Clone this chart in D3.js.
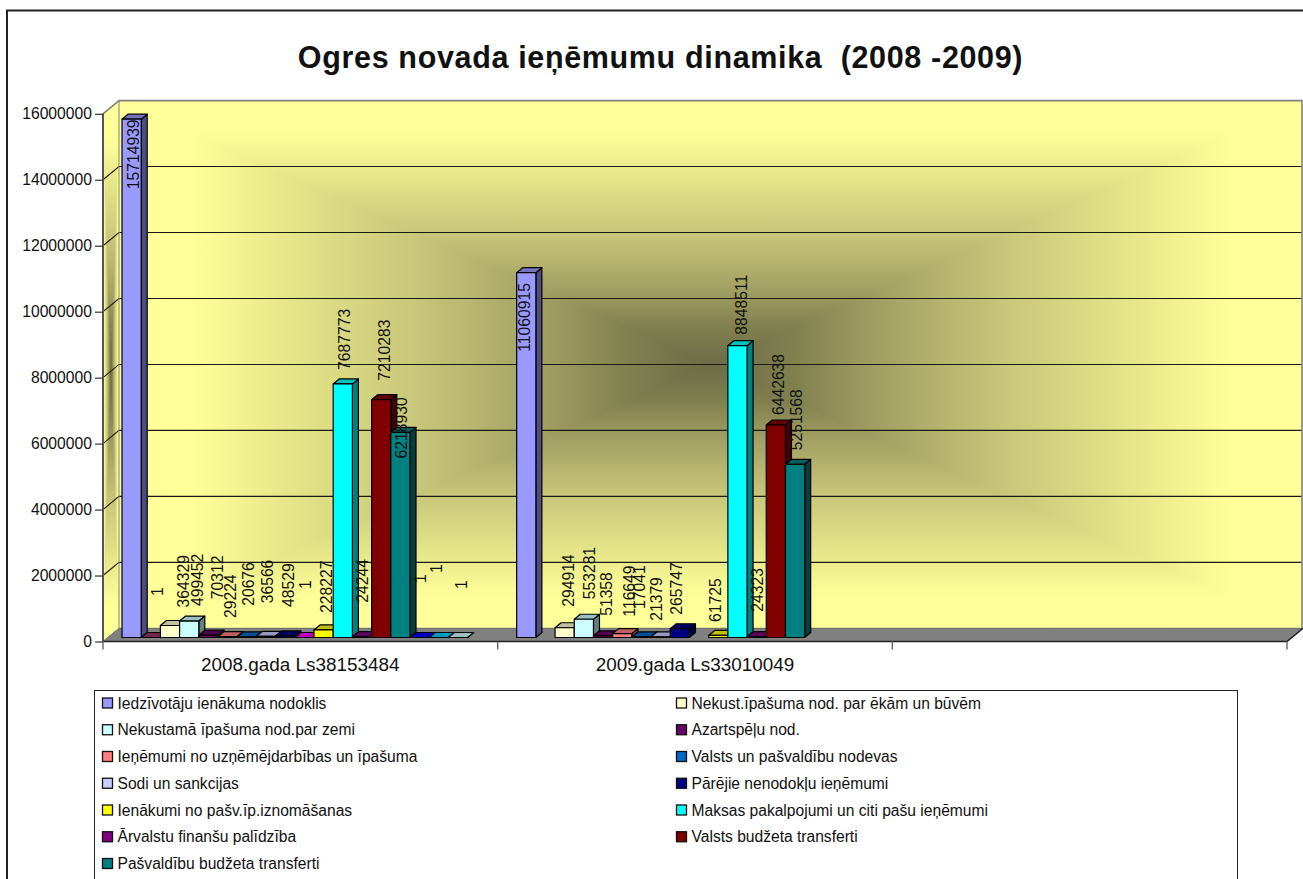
<!DOCTYPE html>
<html><head><meta charset="utf-8">
<script src="https://cdn.jsdelivr.net/npm/d3@7/dist/d3.min.js"></script>
<style>
html,body{margin:0;padding:0;background:#fff;overflow:hidden}
svg{display:block}
text{font-family:"Liberation Sans",Arial,sans-serif;fill:#111;white-space:pre}
</style></head><body><div id="c"></div>
<script>
const titleText = "Ogres novada ieņēmumu dinamika  (2008 -2009)";
const categories = ["2008.gada Ls38153484", "2009.gada Ls33010049", ""];
const seriesNames = [
  "Iedzīvotāju ienākuma nodoklis", null, "Nekust.īpašuma nod. par ēkām un būvēm",
  "Nekustamā īpašuma nod.par zemi", "Azartspēļu nod.", "Ieņēmumi no uzņēmējdarbības un īpašuma",
  "Valsts un pašvaldību nodevas", "Sodi un sankcijas", "Pārējie nenodokļu ieņēmumi", null,
  "Ienākumi no pašv.īp.iznomāšanas", "Maksas pakalpojumi un citi pašu ieņēmumi",
  "Ārvalstu finanšu palīdzība", "Valsts budžeta transferti", "Pašvaldību budžeta transferti",
  null, null, null];
const seriesColors = ["#9999ff","#993366","#ffffcc","#ccffff","#660066","#ff8080","#0066cc","#ccccff",
  "#000080","#ff00ff","#ffff00","#00ffff","#800080","#800000","#008080","#0000ff","#00ccff","#ccffff"];
const values2008 = [15714939,1,364329,499452,70312,29224,20676,36566,48529,1,228227,7687773,24244,7210283,6218930,1,1,1];
const values2009 = [11060915,null,294914,553281,51358,116649,17041,21379,265747,null,61725,8848511,24323,6442638,5251568,null,null,null];
const yTicks = [0,2000000,4000000,6000000,8000000,10000000,12000000,14000000,16000000];
// hand-placed data label offsets in the source chart (dx, dy from the default spot above a bar)
const labelNudge2008 = [[-1.6,76],[4,-35.5],[10,-12],[5,-9],[6,-30],[0,-12.5],[-1,-25],[-2,-27],[0,-23],[-2,-42.5],[0,-11],[-1,-8],[-3,-28],[0,-13],[-2,32],[-2,-48.5],[-5,-58.5],[0,-42.5]];
const labelNudge2009 = [[-5,85],null,[1,-15],[3,-14],[0,-14],[4,-11],[-5,-22],[-7.5,-10],[-6,-8],null,[-6,-7.5],[1,-5],[-2,-19],[0,-4],[-2,-8],null,null,null];

const W=1303,H=879;
const svg=d3.select("#c").append("svg").attr("width",W).attr("height",H);
const defs=svg.append("defs");

// geometry
const front={l:103,r:1287,b:641.5,t:113.8};
const depth={x:16,y:13.2};
const wall={l:front.l+depth.x,r:1302,b:front.b-depth.y,t:front.t-depth.y};
const bar3d={x:6,y:5,base:637.5};

const yAxisScale=d3.scaleLinear().domain([0,16000000]).range([front.b,front.t]);
const yWall=d3.scaleLinear().domain([0,16000000]).range([wall.b,wall.t]);
const yBar=d3.scaleLinear().domain([0,16000000]).range([bar3d.base,bar3d.base-(front.b-front.t)]);
const xCat=d3.scaleBand().domain(categories.map((d,i)=>i)).range([front.l,front.r]);
const xSeries=d3.scaleBand().domain(d3.range(18)).range([19,19+19.2*18]);

// outer frame
svg.append("path").attr("d",`M7,${H+5}V10.5H${W+5}`).attr("fill","none").attr("stroke","#222").attr("stroke-width",2);

// gradient ramp
const ramp=[[0,"#ffff99"],[.06,"#ffff99"],[.17,"#dede85"],[.25,"#c9c77a"],[.35,"#a5a365"],[.43,"#80804f"],[.5,"#6c6b47"],
            [.57,"#80804f"],[.65,"#a5a365"],[.75,"#c9c77a"],[.83,"#dede85"],[.94,"#ffff99"],[1,"#ffff99"]];
function grad(id,x1,y1,x2,y2){
  const g=defs.append("linearGradient").attr("id",id).attr("gradientUnits","userSpaceOnUse")
    .attr("x1",x1).attr("y1",y1).attr("x2",x2).attr("y2",y2);
  ramp.forEach(s=>g.append("stop").attr("offset",s[0]).attr("stop-color",s[1]));
}
grad("wallH",wall.l,0,wall.r,0);
grad("wallV",0,wall.t,0,wall.b);
grad("sideH",front.l,0,wall.l,0);
grad("sideV",0,(front.t+wall.t)/2,0,(front.b+wall.b)/2);

// back wall
const cx=(wall.l+wall.r)/2,cy=(wall.t+wall.b)/2;
svg.append("rect").attr("x",wall.l).attr("y",wall.t).attr("width",wall.r-wall.l).attr("height",wall.b-wall.t).attr("fill","url(#wallH)");
svg.append("path").attr("d",`M${wall.l},${wall.t}H${wall.r}L${cx},${cy}ZM${wall.l},${wall.b}H${wall.r}L${cx},${cy}Z`).attr("fill","url(#wallV)");

// side wall
const sx=(front.l+wall.l)/2,sy=(front.t+front.b)/2-depth.y/2;
svg.append("path").attr("d",`M${front.l},${front.t}L${wall.l},${wall.t}V${wall.b}L${front.l},${front.b}Z`).attr("fill","url(#sideH)");
svg.append("path").attr("d",`M${front.l},${front.t}L${wall.l},${wall.t}L${sx},${sy}ZM${front.l},${front.b}L${wall.l},${wall.b}L${sx},${sy}Z`).attr("fill","url(#sideV)");

// floor
svg.append("path").attr("d",`M${front.l},${front.b}L${wall.l},${wall.b}H${wall.r+1}L${front.r},${front.b}Z`)
  .attr("fill","#808080").attr("stroke","#666").attr("stroke-width",1);

// gridlines
const gridT=yTicks.slice(1,-1);
svg.append("g").selectAll("path").data(gridT).join("path")
  .attr("d",d=>`M${front.l},${yAxisScale(d)}L${wall.l},${yWall(d)}H${wall.r}`)
  .attr("fill","none").attr("stroke","#1a1a10").attr("stroke-width",1.1);

// wall outline
svg.append("path").attr("d",`M${front.l},${front.b}V${front.t}L${wall.l},${wall.t}H${wall.r}V${wall.b}`)
  .attr("fill","none").attr("stroke","#808080").attr("stroke-width",1.6);
svg.append("path").attr("d",`M${wall.l},${wall.t}V${wall.b}L${front.l},${front.b}`)
  .attr("fill","none").attr("stroke","#808080").attr("stroke-width",1);
svg.append("path").attr("d",`M${front.l},${front.b}V${front.t}`).attr("stroke","#555").attr("stroke-width",2);
svg.append("path").attr("d",`M${front.l},${front.b}H${front.r}L${wall.r+1},${wall.b}`).attr("fill","none").attr("stroke","#222").attr("stroke-width",1.4);

// y axis
const yAxis=d3.axisLeft(yAxisScale).tickValues(yTicks).tickFormat(d3.format("d")).tickSize(8).tickPadding(3);
const ya=svg.append("g").attr("transform",`translate(${front.l},0)`).call(yAxis);
ya.select(".domain").remove();
ya.selectAll("line").attr("stroke","#333").attr("stroke-width",1.2);
ya.selectAll("text").attr("font-size",15.7).attr("fill","#111");

// x ticks & labels
const edges=[...categories.map((d,i)=>xCat(i)),front.r];
svg.append("g").selectAll("line").data(edges).join("line")
  .attr("x1",d=>d).attr("x2",d=>d).attr("y1",front.b).attr("y2",front.b+8)
  .attr("stroke","#666").attr("stroke-width",1.4);
svg.append("g").selectAll("text").data(categories).join("text")
  .attr("x",(d,i)=>xCat(i)+xCat.bandwidth()/2).attr("y",671)
  .attr("text-anchor","middle").attr("font-size",18.9).text(d=>d);

// bars
const dataRows=[values2008,values2009];
const nudges=[labelNudge2008,labelNudge2009];
const shade=(c,k)=>{const q=d3.rgb(c);return d3.rgb(q.r*k,q.g*k,q.b*k).formatHex();};
const bars=dataRows.flatMap((vals,g)=>vals.map((v,i)=>({v,i,g})).filter(d=>d.v!==null));
const barX=d=>xCat(d.g)+xSeries(d.i), bw=xSeries.bandwidth();
const barG=svg.append("g").selectAll("g").data(bars).join("g")
  .attr("stroke","#000").attr("stroke-width",1.2).attr("stroke-linejoin","round");
barG.append("path").attr("fill",d=>shade(seriesColors[d.i],.5))
  .attr("d",d=>{const x=barX(d)+bw,y0=bar3d.base,y1=yBar(d.v);
    return `M${x},${y0}L${x+bar3d.x},${y0-bar3d.y}V${y1-bar3d.y}L${x},${y1}Z`;});
barG.append("path").attr("fill",d=>shade(seriesColors[d.i],.75))
  .attr("d",d=>{const x=barX(d),y1=yBar(d.v);
    return `M${x},${y1}L${x+bar3d.x},${y1-bar3d.y}H${x+bw+bar3d.x}L${x+bw},${y1}Z`;});
barG.append("rect").attr("fill",d=>seriesColors[d.i])
  .attr("x",barX).attr("y",d=>yBar(d.v)).attr("width",bw).attr("height",d=>yBar(0)-yBar(d.v));

// data labels
svg.append("g").selectAll("text").data(bars).join("text")
  .attr("font-size",15.7).attr("dominant-baseline","central")
  .attr("transform",d=>{
    const n=nudges[d.g][d.i];
    const x=barX(d)+bw/2+bar3d.x/2+n[0], y=yBar(d.v)-6+n[1];
    return `translate(${x},${y}) rotate(-90)`;})
  .text(d=>d.v);

// title
svg.append("text").attr("x",660.5).attr("y",67.5).attr("text-anchor","middle")
  .attr("font-size",30.5).attr("letter-spacing",0.65).attr("font-weight","bold").attr("fill","#000").text(titleText);

// legend
const legendItems=seriesNames.map((n,i)=>({n,i})).filter(d=>d.n);
const lg={l:94.5,t:690.5,r:1237.5,b:H+5,colX:[102.5,676.5],rowY:d3.scaleLinear().domain([0,6]).range([703,863.5])};
svg.append("rect").attr("x",lg.l).attr("y",lg.t).attr("width",lg.r-lg.l).attr("height",lg.b-lg.t)
  .attr("fill","#fff").attr("stroke","#222").attr("stroke-width",1);
const li=svg.append("g").selectAll("g").data(legendItems).join("g")
  .attr("transform",(d,k)=>`translate(${lg.colX[k%2]},${lg.rowY(Math.floor(k/2))})`);
li.append("rect").attr("x",0).attr("y",-5).attr("width",10).attr("height",10)
  .attr("fill",d=>seriesColors[d.i]).attr("stroke","#111").attr("stroke-width",1.3);
li.append("text").attr("x",15).attr("y",0).attr("dominant-baseline","central").attr("font-size",15.6).text(d=>d.n);
</script></body></html>
